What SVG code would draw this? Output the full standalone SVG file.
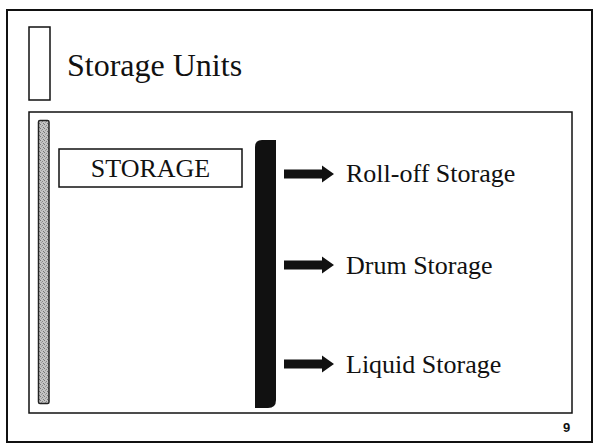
<svg xmlns="http://www.w3.org/2000/svg" width="594" height="445" viewBox="0 0 594 445">
<defs>
<style>
.frame{fill:none;stroke:#111;}
.t{font-family:"Liberation Serif","Times New Roman",serif;fill:#111;}
.lbl{font-size:26px;}
.arrow{fill:#111;}
</style>
<pattern id="stip" width="4" height="4" patternUnits="userSpaceOnUse">
<rect width="4" height="4" fill="#c4c4c4"/>
<rect x="0" y="0" width="1" height="1" fill="#777"/>
<rect x="2" y="1" width="1" height="1" fill="#888"/>
<rect x="3" y="3" width="1" height="1" fill="#777"/>
<rect x="1" y="2" width="1" height="1" fill="#999"/>
</pattern>
<symbol id="arr" viewBox="0 0 50 17" overflow="visible">
<path d="M0 4 H38 V0 L50 8.5 L38 17 V13 H0 Z"/>
</symbol>
</defs>
<rect width="594" height="445" fill="#fff"/>
<g id="slide-frame">
<rect class="frame" x="7" y="10" width="585" height="432" stroke-width="2"/>
</g>
<g id="title">
<rect class="frame" x="29" y="27" width="21" height="73" stroke-width="1.5"/>
<text class="t" x="67" y="76" font-size="32">Storage Units</text>
</g>
<g id="content-box">
<rect class="frame" x="29" y="112" width="543" height="301" stroke-width="1.5"/>
</g>
<g id="gray-bar">
<rect x="38.5" y="120.5" width="10.5" height="283" rx="1.5" fill="url(#stip)" stroke="#222" stroke-width="1.5"/>
</g>
<g id="storage">
<rect class="frame" x="59" y="149" width="183" height="38" stroke-width="1.5"/>
<text class="t" x="150.5" y="177" font-size="26" text-anchor="middle">STORAGE</text>
</g>
<g id="black-bar">
<path d="M262 140 H276 V400 Q276 408 268 408 H255 V147 Q255 140 262 140 Z" fill="#111"/>
</g>
<g id="connectors">
<use href="#arr" class="arrow" x="284" y="165.5" width="50" height="17"/>
<use href="#arr" class="arrow" x="284" y="256.5" width="50" height="17"/>
<use href="#arr" class="arrow" x="284" y="355.5" width="50" height="17"/>
</g>
<g id="roll-off">
<text class="t lbl" x="346" y="182">Roll-off Storage</text>
</g>
<g id="drum">
<text class="t lbl" x="346" y="274">Drum Storage</text>
</g>
<g id="liquid">
<text class="t lbl" x="346" y="373">Liquid Storage</text>
</g>
<g id="page-number">
<text x="563" y="432" font-family="Liberation Sans, Arial, sans-serif" font-weight="bold" font-size="13" fill="#111">9</text>
</g>
</svg>
